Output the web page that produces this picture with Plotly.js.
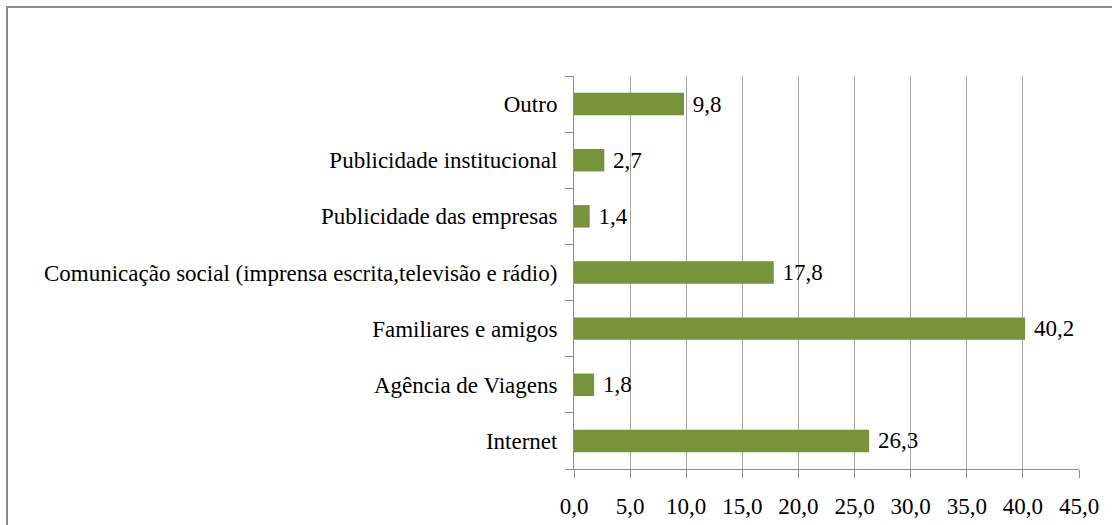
<!DOCTYPE html>
<html>
<head>
<meta charset="utf-8">
<script src="https://cdn.plot.ly/plotly-3.0.1.min.js"></script>
<style>html,body{margin:0;padding:0;background:#fff;}#chart{width:1112px;height:525px;}</style>
</head>
<body>
<div id="chart"></div>
<script>
var categories = ["Internet", "Agência de Viagens", "Familiares e amigos",
  "Comunicação social (imprensa escrita,televisão e rádio)",
  "Publicidade das empresas", "Publicidade institucional", "Outro"];
var values = [26.3, 1.8, 40.2, 17.8, 1.4, 2.7, 9.8];
var xTicks = [0, 5, 10, 15, 20, 25, 30, 35, 40, 45];

var font = {family: "'Liberation Serif', 'Times New Roman', serif", size: 23, color: "#000"};
var L = 574, R = 33, T = 76, B = 56, W = 1112, H = 525;
var pw = W - L - R, ph = H - T - B;

var trace = {
  type: "bar", orientation: "h",
  y: categories, x: values,
  marker: {color: "#77933C"},
  text: values, texttemplate: "\u00a0%{x:.1f}", textposition: "outside",
  constraintext: "none",
  textfont: font, cliponaxis: false, hoverinfo: "skip"
};

var layout = {
  width: W, height: H,
  margin: {l: L, r: R, t: T, b: B, pad: 0},
  separators: ",.",
  font: font,
  showlegend: false,
  bargap: 0.6,
  paper_bgcolor: "#fff", plot_bgcolor: "#fff",
  xaxis: {
    range: [0, 45], tickvals: xTicks, tickformat: ".1f",
    showgrid: true, gridcolor: "#A6A6A6", gridwidth: 1,
    zeroline: false, showline: true, linecolor: "#8C8C8C", linewidth: 1,
    ticks: "outside", ticklen: 8, tickcolor: "#8C8C8C",
    tickfont: font, ticklabelstandoff: 8, fixedrange: true
  },
  yaxis: {
    type: "category", tickson: "boundaries",
    showgrid: false, zeroline: false,
    showline: true, linecolor: "#8C8C8C", linewidth: 1,
    ticks: "outside", ticklen: 8, tickcolor: "#8C8C8C",
    tickfont: font, ticklabelstandoff: 11, fixedrange: true
  },
  shapes: [{
    type: "rect", xref: "paper", yref: "paper",
    x0: (7 - L) / pw, x1: (W + 20 - L) / pw,
    y0: -(H + 20 - T - ph) / ph, y1: 1 + (T - 7) / ph,
    line: {color: "#8C8C8C", width: 2}, fillcolor: "rgba(0,0,0,0)", layer: "below"
  }]
};

Plotly.newPlot("chart", [trace], layout, {displayModeBar: false, staticPlot: true});
</script>
</body>
</html>
